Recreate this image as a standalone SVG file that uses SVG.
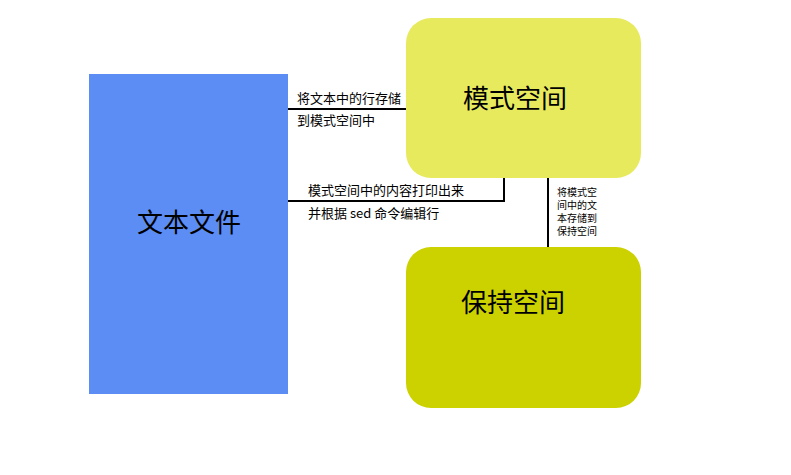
<svg xmlns="http://www.w3.org/2000/svg" width="791" height="475" viewBox="0 0 791 475">
<style>
text{font-family:"Noto Sans CJK SC","Liberation Sans",sans-serif;fill:#000}
.big{font-size:26px;text-anchor:middle}
.lbl{font-size:13px}
.sm{font-size:10px}
.ln{stroke:#000;stroke-width:2;fill:none}
</style>
<rect width="791" height="475" fill="#fff"/>
<g id="file">
<rect x="89" y="74" width="199" height="320" fill="#5B8DF5"/>
<text class="big" x="189" y="232">文本文件</text>
</g>
<g id="pattern">
<rect x="406" y="18" width="235" height="160" rx="25" fill="#E8EA5E"/>
<text class="big" x="515" y="108">模式空间</text>
</g>
<g id="hold">
<rect x="406" y="247" width="235" height="161" rx="25" fill="#CCD100"/>
<text class="big" x="513" y="312">保持空间</text>
</g>
<g id="connectors">
<path class="ln" d="M288 109H406"/>
<path class="ln" d="M288 201H504V178"/>
<path class="ln" d="M548 178V247"/>
<text class="lbl" x="297" y="103">将文本中的行存储</text>
<text class="lbl" x="297" y="125">到模式空间中</text>
<text class="lbl" x="308" y="195">模式空间中的内容打印出来</text>
<text class="lbl" x="308" y="218">并根据 sed 命令编辑行</text>
<text class="sm" x="557" y="196">将模式空</text>
<text class="sm" x="557" y="209">间中的文</text>
<text class="sm" x="557" y="222">本存储到</text>
<text class="sm" x="557" y="235">保持空间</text>
</g>
</svg>
